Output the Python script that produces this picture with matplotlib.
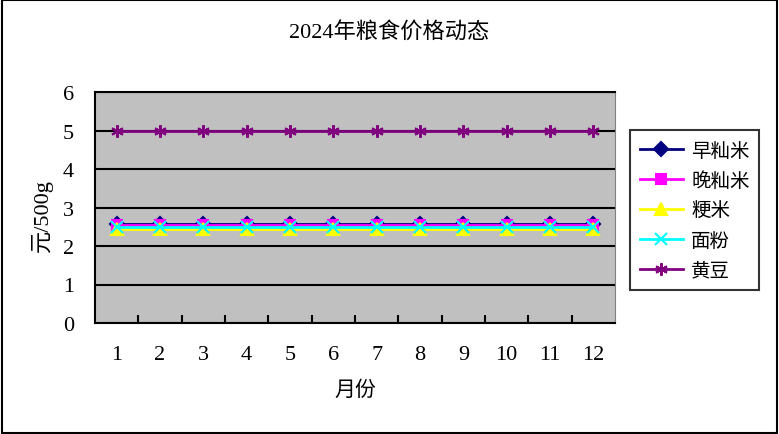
import numpy as np
import matplotlib.pyplot as plt
from matplotlib.patches import Rectangle

plt.rcParams['font.family'] = ['Liberation Serif', 'Noto Sans CJK SC']

months = [str(i) for i in range(1, 13)]
zao_xian = [2.58] * 12     # 早籼米
wan_xian = [2.55] * 12     # 晚籼米
jing_mi = [2.45] * 12      # 粳米
mian_fen = [2.5] * 12      # 面粉
huang_dou = [5.0] * 12     # 黄豆

series = [
    ('早籼米', zao_xian, '#000080', 'D', 7),
    ('晚籼米', wan_xian, '#FF00FF', 's', 7),
    ('粳米', jing_mi, '#FFFF00', '^', 8),
    ('面粉', mian_fen, '#00FFFF', 'x', 8),
    ('黄豆', huang_dou, '#800080', (6, 2, 0), 9),
]

fig = plt.figure(figsize=(7.79, 4.35), dpi=100)
ax = fig.add_axes([95 / 779, 1 - 324 / 435, 520 / 779, 231 / 435])
ax.set_facecolor('#C0C0C0')

x = np.arange(len(months))
for name, vals, col, mk, ms in series:
    ax.plot(x, vals, color=col, lw=2, marker=mk, markersize=ms,
            markeredgecolor=col, markerfacecolor=col, markeredgewidth=1.5,
            label=name)

ax.set_xlim(-0.5, len(months) - 0.5)
ax.set_ylim(0, 6)
ax.set_yticks(range(0, 7))
ax.yaxis.grid(True, color='black', lw=1.5)
ax.set_axisbelow(True)
ax.tick_params(axis='y', length=0, labelsize=16, pad=15)
ax.set_xticks(x)
ax.set_xticklabels(months, fontsize=16)
ax.tick_params(axis='x', which='major', length=0, pad=16)
ax.set_xticks(np.arange(0.5, len(months) - 0.5), minor=True)
ax.tick_params(axis='x', which='minor', direction='in', length=6, width=1.5, color='black')
for s in ['left', 'bottom', 'top']:
    ax.spines[s].set_linewidth(1.5)
ax.spines['right'].set_color('#808080')

ax.set_xlabel('月份', fontsize=15, labelpad=10, family=['Noto Sans CJK SC'])
ax.set_ylabel('元/500g', fontsize=16, labelpad=7, y=0.47)
fig.text(0.5, 1 - 33 / 435, '2024年粮食价格动态', ha='center', va='center', fontsize=16)

leg = fig.legend(loc='upper left', bbox_to_anchor=(630 / 779, 1 - 131 / 435),
                 borderaxespad=0, frameon=True, fancybox=False, edgecolor='black',
                 handlelength=2.2, handletextpad=0.45, borderpad=0.5, labelspacing=0.46,
                 prop={'family': ['Noto Sans CJK SC'], 'size': 14})
leg.get_frame().set_linewidth(1.5)

fig.patches.append(Rectangle((0.002, 0.003), 0.995, 0.994, transform=fig.transFigure,
                             fill=False, edgecolor='black', lw=1.5))

fig.savefig('out.png', dpi=100)
